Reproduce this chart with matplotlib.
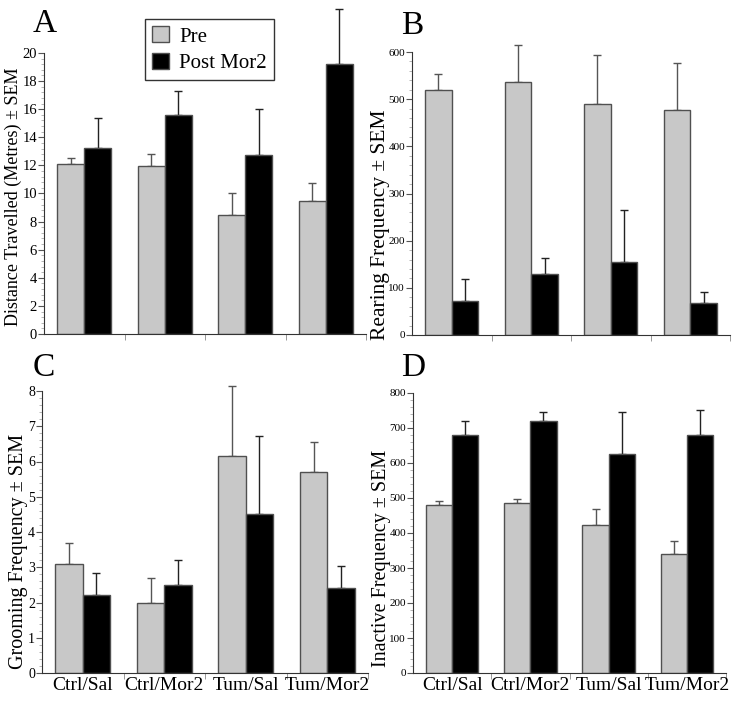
import matplotlib
matplotlib.use("Agg")
import matplotlib.pyplot as plt
import numpy as np
from matplotlib.ticker import MultipleLocator, FixedLocator, NullFormatter
from matplotlib.patches import Patch

plt.rcParams['font.family'] = ['Liberation Serif', 'DejaVu Serif']

groups = ["Ctrl/Sal", "Ctrl/Mor2", "Tum/Sal", "Tum/Mor2"]
series = ["Pre", "Post Mor2"]

dist_pre = [12.07, 11.95, 8.47, 9.47]
dist_pre_sem = [0.47, 0.88, 1.54, 1.30]
dist_post = [13.25, 15.6, 12.71, 19.24]
dist_post_sem = [2.09, 1.70, 3.27, 3.91]

rear_pre = [520, 536, 489, 476]
rear_pre_sem = [34, 78, 105, 101]
rear_post = [73, 130, 155, 68]
rear_post_sem = [45, 34, 110, 24]

groom_pre = [3.1, 2.0, 6.17, 5.69]
groom_pre_sem = [0.6, 0.7, 1.97, 0.87]
groom_post = [2.2, 2.5, 4.5, 2.4]
groom_post_sem = [0.65, 0.7, 2.21, 0.64]

inact_pre = [481, 485, 424, 341]
inact_pre_sem = [11, 13, 46, 37]
inact_post = [679, 721, 626, 679]
inact_post_sem = [41, 26, 120, 73]

PRE_C = "#c8c8c8"
POST_C = "#000000"
EDGE = "#505050"

fig = plt.figure(figsize=(7.38, 7.04), dpi=100)

panels = [
    ("A", [44/738, 1-334/704, 322/738, 281/704], dist_pre, dist_pre_sem, dist_post, dist_post_sem,
     (0, 20), 2, 0.4, "Distance Travelled (Metres) ± SEM", False, 10.5, 13, (-0.095, 0.49)),
    ("B", [412/738, 1-335/704, 318/738, 283/704], rear_pre, rear_pre_sem, rear_post, rear_post_sem,
     (0, 600), 100, 20, "Rearing Frequency ± SEM", False, 8, 15.5, (-0.10, 0.39)),
    ("C", [42/738, 1-673/704, 326/738, 282/704], groom_pre, groom_pre_sem, groom_post, groom_post_sem,
     (0, 8), 1, 0.2, "Grooming Frequency ± SEM", True, 10, 14.5, (-0.072, 0.43)),
    ("D", [413/738, 1-673/704, 313/738, 280/704], inact_pre, inact_pre_sem, inact_post, inact_post_sem,
     (0, 800), 100, 20, "Inactive Frequency ± SEM", True, 8, 14.5, (-0.102, 0.41)),
]

letter_pos = {"A": (33/738, 1-8/704), "B": (401/738, 1-10/704),
              "C": (33/738, 1-353/704), "D": (401/738, 1-352/704)}

w = 0.335
for (letter, rect, pre, pre_e, post, post_e, ylim, major, minor, ylabel, xlabels,
     tfs, lfs, lpos) in panels:
    ax = fig.add_axes(rect)
    x = np.arange(len(groups)) + 0.5
    ax.bar(x - w/2, pre, w, color=PRE_C, edgecolor=EDGE, linewidth=1.0, zorder=2)
    ax.bar(x + w/2, post, w, color=POST_C, edgecolor=EDGE, linewidth=1.0, zorder=2)
    ax.errorbar(x - w/2, pre, yerr=[np.zeros(4), pre_e], fmt='none', ecolor="#555555",
                elinewidth=1.0, capsize=3, capthick=1.0, clip_on=False, zorder=1)
    ax.errorbar(x + w/2, post, yerr=[np.zeros(4), post_e], fmt='none', ecolor="#222222",
                elinewidth=1.0, capsize=3, capthick=1.0, clip_on=False, zorder=1)
    ax.set_xlim(0, 4)
    ax.set_ylim(*ylim)
    for s in ["top", "right"]:
        ax.spines[s].set_visible(False)
    ax.spines["left"].set_color("#333333")
    ax.spines["bottom"].set_color("#333333")
    ax.yaxis.set_major_locator(MultipleLocator(major))
    ax.yaxis.set_minor_locator(MultipleLocator(minor))
    ax.tick_params(axis='y', which='major', direction='out', length=4, width=0.8,
                   color="#555555", labelsize=tfs, pad=1)
    ax.tick_params(axis='y', which='minor', direction='out', length=2, width=0.5, color="#999999")
    ax.xaxis.set_major_locator(FixedLocator([1, 2, 3, 4]))
    ax.xaxis.set_major_formatter(NullFormatter())
    ax.tick_params(axis='x', which='major', direction='out', length=4, width=0.6, color="#888888")
    if xlabels:
        ax.xaxis.set_minor_locator(FixedLocator(x))
        ax.set_xticklabels(groups, minor=True)
        ax.tick_params(axis='x', which='minor', length=0, labelsize=14, pad=3)
    ax.set_ylabel(ylabel, fontsize=lfs, va='center')
    ax.yaxis.set_label_coords(lpos[0], lpos[1])
    fig.text(letter_pos[letter][0], letter_pos[letter][1], letter, fontsize=24,
             ha='left', va='top')
    if letter == "A":
        handles = [Patch(facecolor=PRE_C, edgecolor=EDGE, label=series[0]),
                   Patch(facecolor=POST_C, edgecolor=EDGE, label=series[1])]
        leg = fig.legend(handles=handles, loc='upper left',
                         bbox_to_anchor=(145/738, 1-19/704), fontsize=15,
                         frameon=True, fancybox=False, handlelength=0.8, handleheight=0.8,
                         handletextpad=0.5, borderpad=0.35, labelspacing=0.3,
                         borderaxespad=0)
        leg.get_frame().set_edgecolor("black")
        leg.get_frame().set_linewidth(1.0)

fig.savefig("out.png", dpi=100)
